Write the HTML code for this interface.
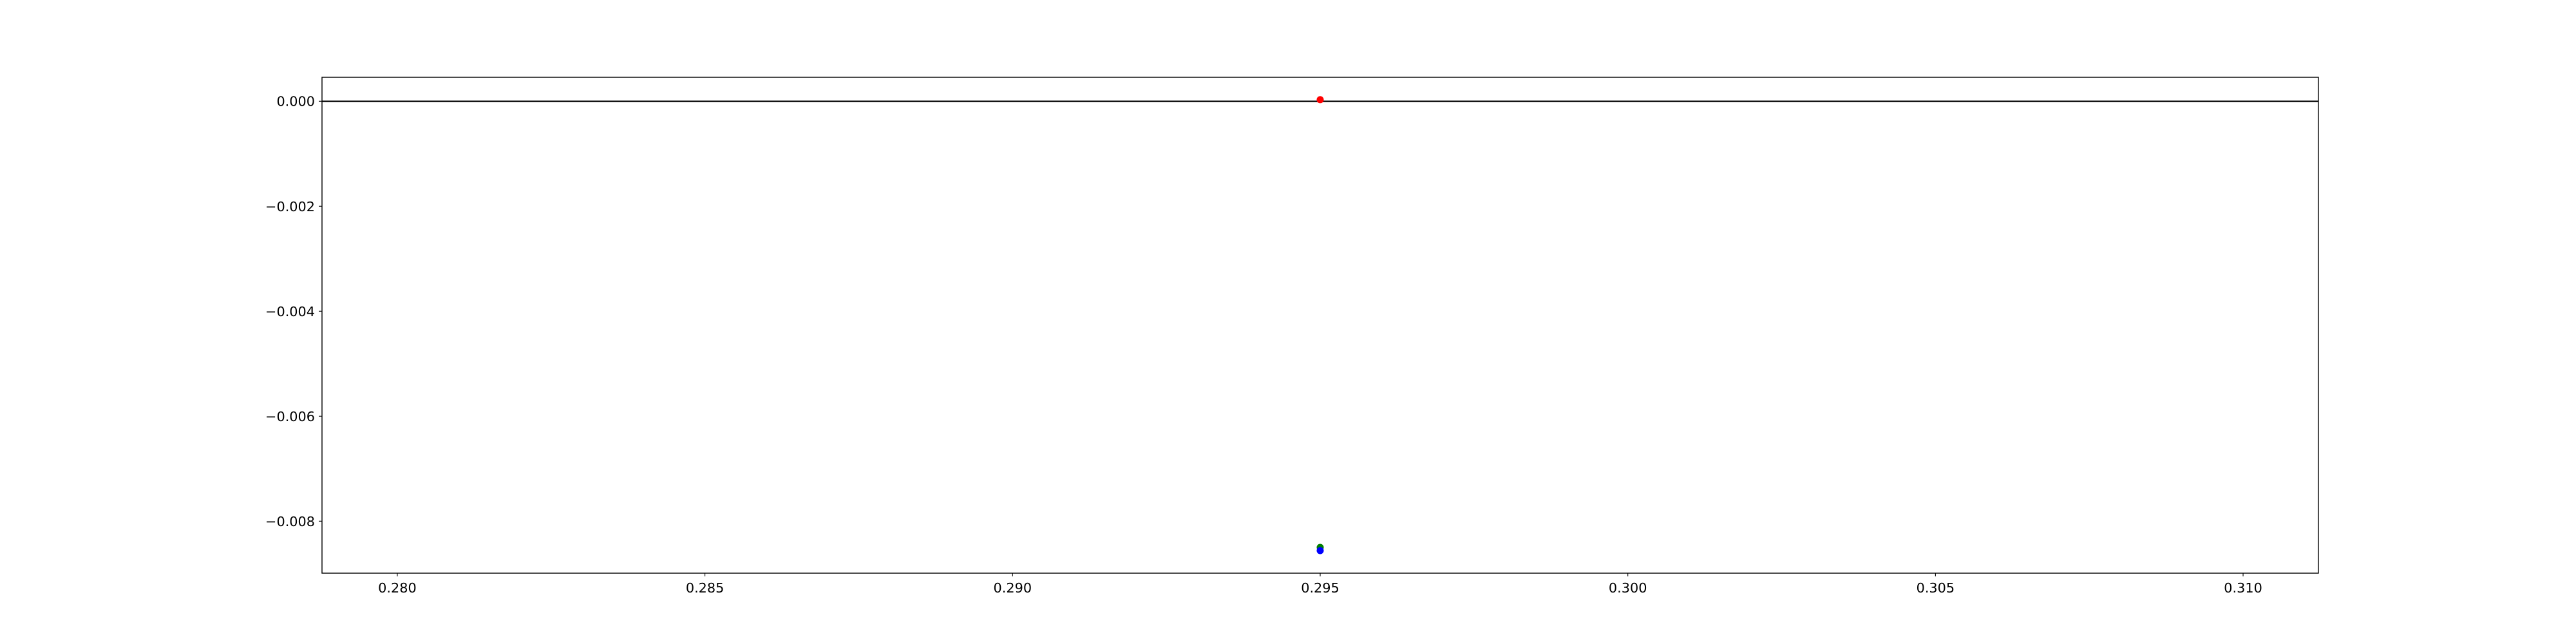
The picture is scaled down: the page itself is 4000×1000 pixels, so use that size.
<!DOCTYPE html>
<html><head><meta charset="utf-8"><style>body{margin:0;background:#fff}svg{display:block}text{font-family:"DejaVu Sans","Liberation Sans",sans-serif;font-size:20.8px;fill:#000}</style></head>
<body>
<svg id="chart" width="4000" height="1000" xmlns="http://www.w3.org/2000/svg"></svg>
<script>
const xTicks = [0.280, 0.285, 0.290, 0.295, 0.300, 0.305, 0.310];
const xTickLabels = ["0.280","0.285","0.290","0.295","0.300","0.305","0.310"];
const yTicks = [0.000, -0.002, -0.004, -0.006, -0.008];
const yTickLabels = ["0.000","\u22120.002","\u22120.004","\u22120.006","\u22120.008"];
const pointX = [0.295, 0.295, 0.295];
const pointY = [0.00003, -0.0085, -0.00856];
const pointColors = ["red","green","blue"];
const pointNames = ["point-red","point-green","point-blue"];
const hlineY = 0;

const L=500,R=3600,T=120,B=890;
const xmin=0.278776,xmax=0.311224;
const ymax=0.000457,ymin=-0.00899;
const sx=v=>L+(v-xmin)/(xmax-xmin)*(R-L);
const sy=v=>T+(ymax-v)/(ymax-ymin)*(B-T);
const svg=document.getElementById('chart');
const NS='http://www.w3.org/2000/svg';
function mk(tag,attrs,parent){const e=document.createElementNS(NS,tag);for(const k in attrs)e.setAttribute(k,attrs[k]);(parent||svg).appendChild(e);return e;}

const hl=mk('line',{x1:L,x2:R,y1:sy(hlineY),y2:sy(hlineY),stroke:'#000','stroke-width':2});



pointX.forEach((x,i)=>{
  const c=mk('circle',{cx:sx(x),cy:sy(pointY[i]),r:5.5,fill:pointColors[i]});
  
  
});

const frame=mk('rect',{x:L,y:T,width:R-L,height:B-T,fill:'none',stroke:'#000','stroke-width':1.4});



xTicks.forEach((v,i)=>{
  const x=sx(v);
  const t=mk('line',{x1:x,x2:x,y1:B,y2:B+5,stroke:'#000','stroke-width':1.1});
  
  
  const tx=mk('text',{x:x,y:B+30,'text-anchor':'middle'});
  tx.textContent=xTickLabels[i];
  
  
});
yTicks.forEach((v,i)=>{
  const y=sy(v);
  const t=mk('line',{x1:L-5,x2:L,y1:y,y2:y,stroke:'#000','stroke-width':1.1});
  
  
  const tx=mk('text',{x:L-11,y:y+7.5,'text-anchor':'end'});
  tx.textContent=yTickLabels[i];
  
  
});
</script>
</body></html>
